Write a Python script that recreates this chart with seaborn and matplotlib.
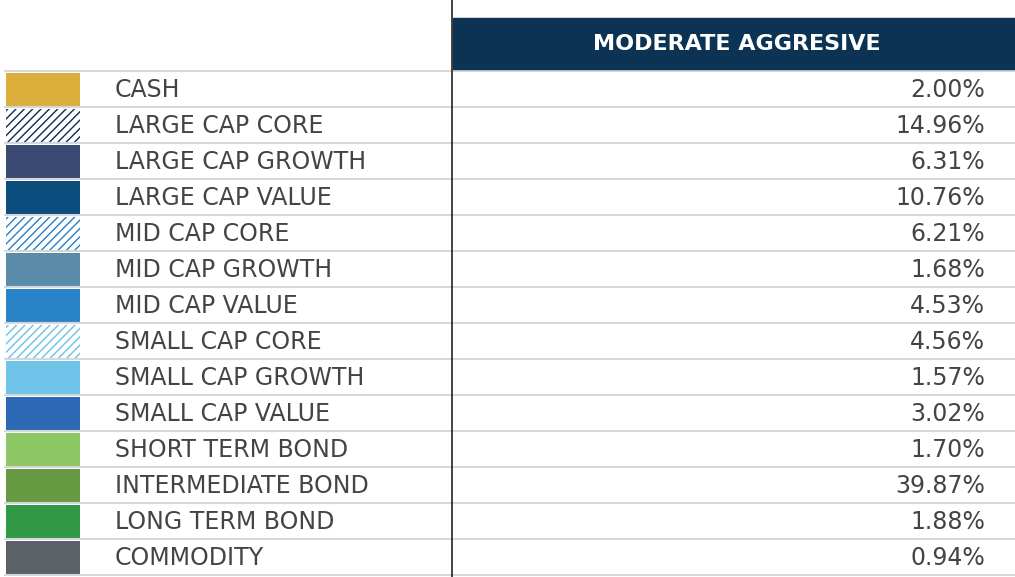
import matplotlib
matplotlib.use("Agg")
import matplotlib.pyplot as plt
import seaborn as sns
import pandas as pd

categories = ["CASH","LARGE CAP CORE","LARGE CAP GROWTH","LARGE CAP VALUE","MID CAP CORE",
              "MID CAP GROWTH","MID CAP VALUE","SMALL CAP CORE","SMALL CAP GROWTH","SMALL CAP VALUE",
              "SHORT TERM BOND","INTERMEDIATE BOND","LONG TERM BOND","COMMODITY"]
values = [2.00,14.96,6.31,10.76,6.21,1.68,4.53,4.56,1.57,3.02,1.70,39.87,1.88,0.94]
colors = ["#dcae3c","#0d2c4c","#3a4a72","#0b4e7e","#2a7fc6","#5a8ca9","#2c84c8","#6cc0e8",
          "#70c3e9","#2c68b4","#8cc665","#659a42","#329a47","#5b6167"]
hatched = [False,True,False,False,True,False,False,True,False,False,False,False,False,False]
series_name = "MODERATE AGGRESIVE"

df = pd.DataFrame({"cat":categories,"val":values})
sns.set_theme(style="white")
fig = plt.figure(figsize=(10.15,5.77), dpi=100)
ax = fig.add_axes([0,0,1,1])
ax.set_xlim(0,1015); ax.set_ylim(577,0); ax.axis("off")
font = "Liberation Sans Narrow"
top, h = 71, 36
ax.add_patch(plt.Rectangle((453,18),562,51,color="#0c3354",zorder=2))
ax.text(737,44,series_name,color="white",ha="center",va="center",fontsize=16,fontweight="bold",family=font)
ax.plot([452,452],[0,577],color="#222",lw=1.2,zorder=3)
for i,row in df.iterrows():
    y0 = top+i*h
    yc = y0+h/2
    if hatched[i]:
        ax.bar(6, h-3, width=74, bottom=y0+1.5, align="edge", color="white",
               edgecolor=colors[i], hatch="////", lw=0)
    else:
        ax.bar(6, h-3, width=74, bottom=y0+1.5, align="edge", color=colors[i], lw=0)
    ax.text(115,yc+1,row["cat"],ha="left",va="center",fontsize=17,color="#444",family=font)
    ax.text(985,yc+1,f"{row['val']:.2f}%",ha="right",va="center",fontsize=17,color="#444",family=font)
    ax.plot([5,1015],[y0,y0],color="#d5d8da",lw=1.5,zorder=1)
ax.plot([5,1015],[top+14*h,top+14*h],color="#d5d8da",lw=1.5,zorder=1)
plt.rcParams["hatch.linewidth"]=3
fig.savefig("out.png",dpi=100)
